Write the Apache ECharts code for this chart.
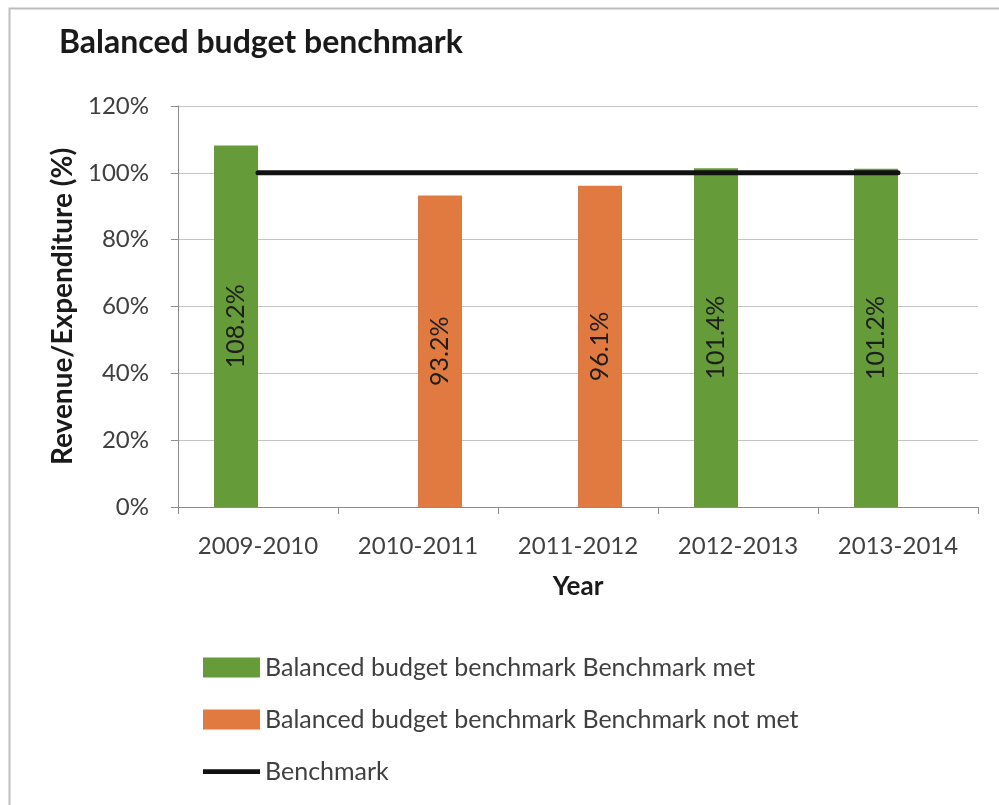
<!DOCTYPE html>
<html>
<head>
<meta charset="utf-8">
<style>
  html, body { margin: 0; padding: 0; background: #ffffff; }
  #chart { width: 999px; height: 805px; }
</style>
<script src="https://cdn.jsdelivr.net/npm/echarts@6/dist/echarts.min.js"></script>
</head>
<body>
<div id="chart"></div>
<script>
// Fiscal years on the category axis
const years = ['2009-2010', '2010-2011', '2011-2012', '2012-2013', '2013-2014'];
// Revenue / expenditure ratio (%) — years that met the benchmark
const metValues = [108.2, null, null, 101.4, 101.2];
// Revenue / expenditure ratio (%) — years that missed the benchmark
const notMetValues = [null, 93.2, 96.1, null, null];
// Benchmark level (%)
const benchmarkValues = [100, 100, 100, 100, 100];
// Value axis ticks
const yTicks = [0, 20, 40, 60, 80, 100, 120];

const FONT = 'Lato, "Open Sans", sans-serif';
const TEXT = '#404040';

const chart = echarts.init(document.getElementById('chart'), null, { renderer: 'canvas' });

const barLabel = {
  show: true,
  position: 'inside',
  rotate: 90,
  formatter: p => p.value.toFixed(1) + '%',
  fontFamily: FONT,
  fontSize: 25,
  color: '#1e1e1e'
};

chart.setOption({
  animation: false,
  backgroundColor: '#ffffff',
  title: {
    text: 'Balanced budget benchmark',
    left: 54,
    top: 22,
    textStyle: { fontFamily: FONT, fontSize: 32, fontWeight: 'bold', color: '#1a1a1a' }
  },
  graphic: [{
    type: 'rect',
    left: 7, top: 6,
    shape: { width: 1100, height: 900 },
    style: { fill: 'none', stroke: '#bdbdbd', lineWidth: 2 },
    silent: true, z: -10
  }],
  grid: { left: 178, right: 21, top: 106, bottom: 298 },
  legend: {
    orient: 'vertical',
    left: 198,
    top: 650,
    itemWidth: 57,
    itemHeight: 20,
    itemGap: 27,
    textStyle: { fontFamily: FONT, fontSize: 25, color: TEXT },
    data: [
      { name: 'Balanced budget benchmark Benchmark met', icon: 'rect' },
      { name: 'Balanced budget benchmark Benchmark not met', icon: 'rect' },
      { name: 'Benchmark', icon: 'path://M0,0h60v5h-60z' }
    ]
  },
  xAxis: {
    type: 'category',
    data: years,
    boundaryGap: true,
    name: 'Year',
    nameLocation: 'middle',
    nameGap: 67,
    nameTextStyle: { fontFamily: FONT, fontSize: 26, fontWeight: 'bold', color: '#1a1a1a' },
    axisLine: { lineStyle: { color: '#8c8c8c', width: 1 } },
    axisTick: { show: true, length: 7, inside: false, alignWithLabel: false, lineStyle: { color: '#8c8c8c' } },
    axisLabel: { margin: 27, fontFamily: FONT, fontSize: 24, color: TEXT, interval: 0 },
    splitLine: { show: false }
  },
  yAxis: {
    type: 'value',
    min: yTicks[0],
    max: yTicks[yTicks.length - 1],
    interval: yTicks[1] - yTicks[0],
    name: 'Revenue/Expenditure (%)',
    nameLocation: 'middle',
    nameRotate: 90,
    nameGap: 99,
    nameTextStyle: { fontFamily: FONT, fontSize: 28, fontWeight: 'bold', color: '#1a1a1a' },
    axisLine: { show: true, lineStyle: { color: '#8c8c8c', width: 1 } },
    axisTick: { show: true, length: 7, lineStyle: { color: '#8c8c8c' } },
    axisLabel: { margin: 29, fontFamily: FONT, fontSize: 24, color: TEXT, formatter: v => v + '%' },
    splitLine: { show: true, lineStyle: { color: '#c4c4c4', width: 1 } }
  },
  series: [
    {
      name: 'Balanced budget benchmark Benchmark met',
      type: 'bar',
      data: metValues,
      barWidth: 44,
      barGap: '0%',
      itemStyle: { color: '#659b39' },
      label: barLabel,
      z: 2
    },
    {
      name: 'Balanced budget benchmark Benchmark not met',
      type: 'bar',
      data: notMetValues,
      barWidth: 44,
      barGap: '0%',
      itemStyle: { color: '#e07a40' },
      label: barLabel,
      z: 2
    },
    {
      name: 'Benchmark',
      type: 'line',
      data: benchmarkValues,
      symbol: 'none',
      lineStyle: { color: '#111111', width: 5, cap: 'round' },
      itemStyle: { color: '#111111' },
      z: 3
    }
  ]
});
</script>
</body>
</html>
